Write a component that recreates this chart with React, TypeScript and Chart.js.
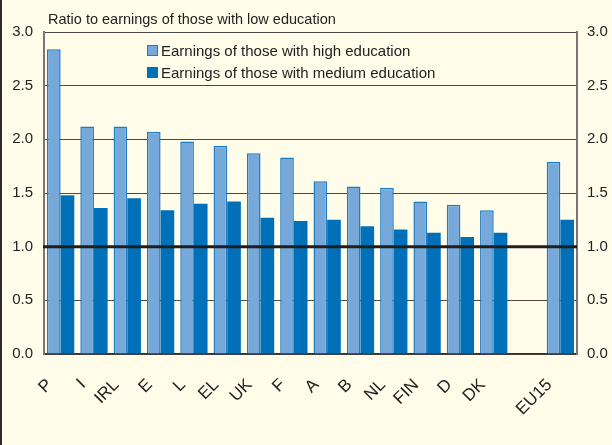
import React, { useEffect, useRef } from "react";
import { Chart, registerables } from "chart.js";

Chart.register(...registerables);

const categories = ["P", "I", "IRL", "E", "L", "EL", "UK", "F", "A", "B", "NL", "FIN", "D", "DK", "", "EU15"];
const highEducation = [2.84, 2.12, 2.12, 2.07, 1.98, 1.94, 1.87, 1.83, 1.61, 1.56, 1.55, 1.42, 1.39, 1.34, null, 1.79];
const mediumEducation = [1.48, 1.36, 1.45, 1.34, 1.4, 1.42, 1.27, 1.24, 1.25, 1.19, 1.16, 1.13, 1.09, 1.13, null, 1.25];
const seriesLabels = ["Earnings of those with high education", "Earnings of those with medium education"];
const axisTitle = "Ratio to earnings of those with low education";
const yMin = 0;
const yMax = 3;
const yStep = 0.5;
const referenceValue = 1.0;

const FONT = "'Liberation Sans', Arial, Helvetica, sans-serif";

const decorPlugin = {
  id: "decor",
  beforeDraw(chart: any) {
    const ctx = chart.ctx;
    ctx.save();
    ctx.fillStyle = "#fffdea";
    ctx.fillRect(0, 0, chart.width, chart.height);
    ctx.fillStyle = "#2a2a2a";
    ctx.fillRect(0, 0, 2, chart.height);
    ctx.restore();
  },
  afterDatasetsDraw(chart: any) {
    const ctx = chart.ctx;
    const y = chart.scales.y.getPixelForValue(referenceValue);
    const { left, right } = chart.chartArea;
    ctx.save();
    ctx.strokeStyle = "#1e1e1e";
    ctx.lineWidth = 3;
    ctx.beginPath();
    ctx.moveTo(left - 1, y);
    ctx.lineTo(right, y);
    ctx.stroke();
    ctx.restore();
  },
  afterDraw(chart: any) {
    const ctx = chart.ctx;
    const { left, top } = chart.chartArea;
    ctx.save();
    ctx.fillStyle = "#222";
    ctx.font = `14.5px ${FONT}`;
    ctx.textBaseline = "alphabetic";
    ctx.textAlign = "left";
    ctx.fillText(axisTitle, left + 4, top - 8);
    const ds = chart.data.datasets;
    const lx = left + 103;
    ds.forEach((d: any, i: number) => {
      const by = top + 13 + i * 22;
      ctx.fillStyle = d.backgroundColor;
      ctx.fillRect(lx, by, 11, 11);
      if (d.borderWidth) {
        ctx.strokeStyle = d.borderColor;
        ctx.lineWidth = 1;
        ctx.strokeRect(lx + 0.5, by + 0.5, 10, 10);
      }
      ctx.fillStyle = "#222";
      ctx.font = `15px ${FONT}`;
      ctx.fillText(d.label, lx + 14, by + 10.5);
    });
    ctx.restore();
  },
};

export default function App() {
  const ref = useRef<HTMLCanvasElement>(null);
  useEffect(() => {
    document.body.style.margin = "0";
    const chart = new Chart(ref.current as HTMLCanvasElement, {
      type: "bar",
      data: {
        labels: categories,
        datasets: [
          {
            label: seriesLabels[0],
            data: highEducation,
            backgroundColor: "#76a8da",
            borderColor: "#1f7cc0",
            borderWidth: 1.5,
            categoryPercentage: 0.82,
            barPercentage: 1.0,
          },
          {
            label: seriesLabels[1],
            data: mediumEducation,
            backgroundColor: "#0070b8",
            borderColor: "#0070b8",
            borderWidth: 0,
            categoryPercentage: 0.82,
            barPercentage: 1.0,
          },
        ],
      },
      options: {
        animation: false,
        responsive: false,
        maintainAspectRatio: false,
        layout: { padding: { top: 32, left: 0, right: 0, bottom: 0 } },
        plugins: { legend: { display: false }, title: { display: false }, tooltip: { enabled: false } },
        scales: {
          x: {
            grid: { display: false },
            border: { display: true, color: "#333", width: 1.5 },
            ticks: {
              autoSkip: false,
              maxRotation: 45,
              minRotation: 45,
              color: "#222",
              font: { family: FONT, size: 17 },
              padding: 13,
              labelOffset: -11,
            },
            afterFit(scale: any) {
              scale.height = 91;
            },
          },
          y: {
            position: "left",
            min: yMin,
            max: yMax,
            ticks: {
              stepSize: yStep,
              color: "#222",
              font: { family: FONT, size: 15 },
              padding: 11,
              callback: (v: any) => Number(v).toFixed(1),
            },
            grid: { color: "#4a4a4a", lineWidth: 1, drawTicks: false },
            border: { display: true, color: "#777", width: 2 },
            afterFit(scale: any) {
              scale.width = 44;
            },
          },
          y2: {
            position: "right",
            min: yMin,
            max: yMax,
            ticks: {
              stepSize: yStep,
              color: "#222",
              font: { family: FONT, size: 15 },
              padding: 10,
              callback: (v: any) => Number(v).toFixed(1),
            },
            grid: { display: false, drawTicks: false },
            border: { display: true, color: "#777", width: 2 },
            afterFit(scale: any) {
              scale.width = 35;
            },
          },
        },
      },
      plugins: [decorPlugin],
    });
    return () => chart.destroy();
  }, []);
  return (
    <div style={{ position: "absolute", left: 0, top: 0, width: 612, height: 445 }}>
      <canvas ref={ref} width={612} height={445} style={{ display: "block" }} />
    </div>
  );
}
